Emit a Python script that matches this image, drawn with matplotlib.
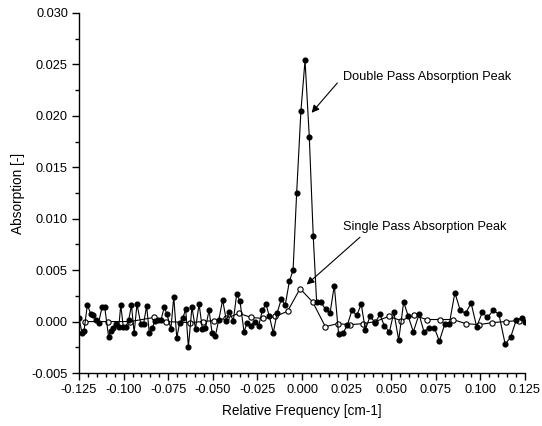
import matplotlib
matplotlib.use('Agg')
import matplotlib.pyplot as plt
from matplotlib.ticker import MultipleLocator, FormatStrFormatter

plt.rcParams['font.family'] = ['Liberation Sans', 'DejaVu Sans']
plt.rcParams['font.size'] = 9.2

# double pass scan (filled markers)
freq_double = [
    -0.1250, -0.1233, -0.1222, -0.1203, -0.1184, -0.1170, -0.1155, -0.1140, -0.1121, -0.1106,
    -0.1084, -0.1072, -0.1058, -0.1043, -0.1027, -0.1016, -0.1002, -0.0987, -0.0971, -0.0956,
    -0.0941, -0.0925, -0.0904, -0.0888, -0.0871, -0.0856, -0.0839, -0.0824, -0.0810, -0.0790,
    -0.0772, -0.0757, -0.0735, -0.0719, -0.0702, -0.0686, -0.0669, -0.0652, -0.0637, -0.0617,
    -0.0597, -0.0577, -0.0558, -0.0541, -0.0521, -0.0504, -0.0486, -0.0466, -0.0445, -0.0424,
    -0.0408, -0.0385, -0.0366, -0.0348, -0.0325, -0.0307, -0.0288, -0.0265, -0.0243, -0.0222,
    -0.0202, -0.0183, -0.0161, -0.0140, -0.0116, -0.0094, -0.0071, -0.0050, -0.0030, -0.0006,
    0.0017, 0.0041, 0.0063, 0.0082, 0.0105, 0.0132, 0.0157, 0.0181, 0.0205, 0.0231,
    0.0255, 0.0280, 0.0307, 0.0332, 0.0355, 0.0381, 0.0411, 0.0437, 0.0461, 0.0490,
    0.0515, 0.0542, 0.0570, 0.0596, 0.0624, 0.0656, 0.0684, 0.0712, 0.0742, 0.0770,
    0.0801, 0.0826, 0.0857, 0.0887, 0.0917, 0.0948, 0.0979, 0.1011, 0.1039, 0.1073,
    0.1104, 0.1139, 0.1170, 0.1201, 0.1235, 0.1250,
]
abs_double = [
    0.0003, -0.0011, -0.0009, 0.00165, 0.0007, 0.0006, 0.0002, -0.0001, 0.0014, 0.0014,
    -0.0015, -0.00095, -0.0006, -0.0002, -0.0005, 0.0016, -0.0005, -0.0005, 0.0002, 0.0016,
    -0.0011, 0.0017, -0.0002, -0.0002, 0.0015, -0.0011, -0.0006, 0.0001, 0.0002, 0.0002,
    0.0014, 0.0007, -0.0007, 0.0024, -0.0016, -0.0001, 0.0003, 0.0012, -0.0025, 0.0014,
    -0.0007, 0.0017, -0.00075, -0.0006, 0.0011, -0.0011, -0.0014, 0.0002, 0.0021, 0.0001,
    0.0009, 0.0001, 0.0027, 0.0020, -0.0010, -0.0001, -0.0004, 0.0000, -0.0004, 0.0011,
    0.0017, 0.0005, -0.0011, 0.0008, 0.0022, 0.0016, 0.0039, 0.0050, 0.0125, 0.0205,
    0.0254, 0.0179, 0.0083, 0.0019, 0.0019, 0.0012, 0.0008, 0.0035, -0.0012, -0.0011,
    -0.0003, 0.0011, 0.0006, 0.0017, -0.0008, 0.0005, -0.0001, 0.0007, -0.0004, -0.0010,
    0.0009, -0.0018, 0.0019, 0.0005, -0.0010, 0.0007, -0.0010, -0.0006, -0.0006, -0.0019,
    -0.0002, -0.0002, 0.0028, 0.0011, 0.0008, 0.0018, -0.0005, 0.0009, 0.0004, 0.0011,
    0.0007, -0.0022, -0.0015, 0.00015, 0.0003, 0.0000,
]

# single pass scan (open markers)
freq_single = [
    -0.1216, -0.1090, -0.0964, -0.0830, -0.0762, -0.0628, -0.0557, -0.0492, -0.0426, -0.0355,
    -0.0284, -0.0217, -0.0150, -0.0081, -0.0011, 0.0060, 0.0131, 0.0199, 0.0269, 0.0342,
    0.0411, 0.0486, 0.0556, 0.0628, 0.0699, 0.0771, 0.0845, 0.0919, 0.0992, 0.1067,
    0.1141, 0.1216,
]
abs_single = [
    0.0000, 0.0000, 0.0000, 0.0004, 0.0000, -0.0001, 0.0000, 0.0001, 0.0003, 0.0008,
    0.0004, 0.0003, 0.0005, 0.0010, 0.0032, 0.0019, -0.0005, -0.0002, -0.0003, -0.0002,
    0.0000, 0.0005, 0.0001, 0.0006, 0.0002, 0.0002, 0.0002, -0.0002, -0.0003, -0.0001,
    0.0000, 0.0001,
]

fig = plt.figure(figsize=(5.42, 4.26), dpi=100)
ax = fig.add_axes([0.1458, 0.1244, 0.8228, 0.8451])

ax.plot(freq_single, abs_single, '-o', color='black', lw=0.8, ms=3.8,
        mfc='white', mec='black', mew=0.8, zorder=2)
ax.plot(freq_double, abs_double, '-o', color='black', lw=0.8, ms=3.4,
        mfc='black', mec='black', zorder=3)

ax.set_xlim(-0.125, 0.125)
ax.set_ylim(-0.005, 0.030)
ax.xaxis.set_major_locator(MultipleLocator(0.025))
ax.xaxis.set_minor_locator(MultipleLocator(0.005))
ax.yaxis.set_major_locator(MultipleLocator(0.005))
ax.yaxis.set_minor_locator(MultipleLocator(0.0025))
ax.xaxis.set_major_formatter(FormatStrFormatter('%.3f'))
ax.yaxis.set_major_formatter(FormatStrFormatter('%.3f'))

for s in ['top', 'right']:
    ax.spines[s].set_visible(False)
for s in ['left', 'bottom']:
    ax.spines[s].set_linewidth(1.0)
ax.tick_params(which='major', direction='out', length=5, width=1.0, pad=3)
ax.tick_params(which='minor', direction='out', length=3, width=1.0)

ax.set_xlabel('Relative Frequency [cm-1]', fontsize=9.8, labelpad=6)
ax.set_ylabel('Absorption [-]', fontsize=9.8, labelpad=5)

arrow = dict(arrowstyle='-|>', color='black', lw=0.8, mutation_scale=11,
             shrinkA=0, shrinkB=0)
ax.annotate('', xy=(0.0054, 0.0203), xytext=(0.0198, 0.0232), arrowprops=arrow)
ax.text(0.0230, 0.0238, 'Double Pass Absorption Peak', ha='left', va='center')
ax.annotate('', xy=(0.0026, 0.0036), xytext=(0.0325, 0.0082), arrowprops=arrow)
ax.text(0.0230, 0.0092, 'Single Pass Absorption Peak', ha='left', va='center')

fig.savefig('out.png', dpi=100)
